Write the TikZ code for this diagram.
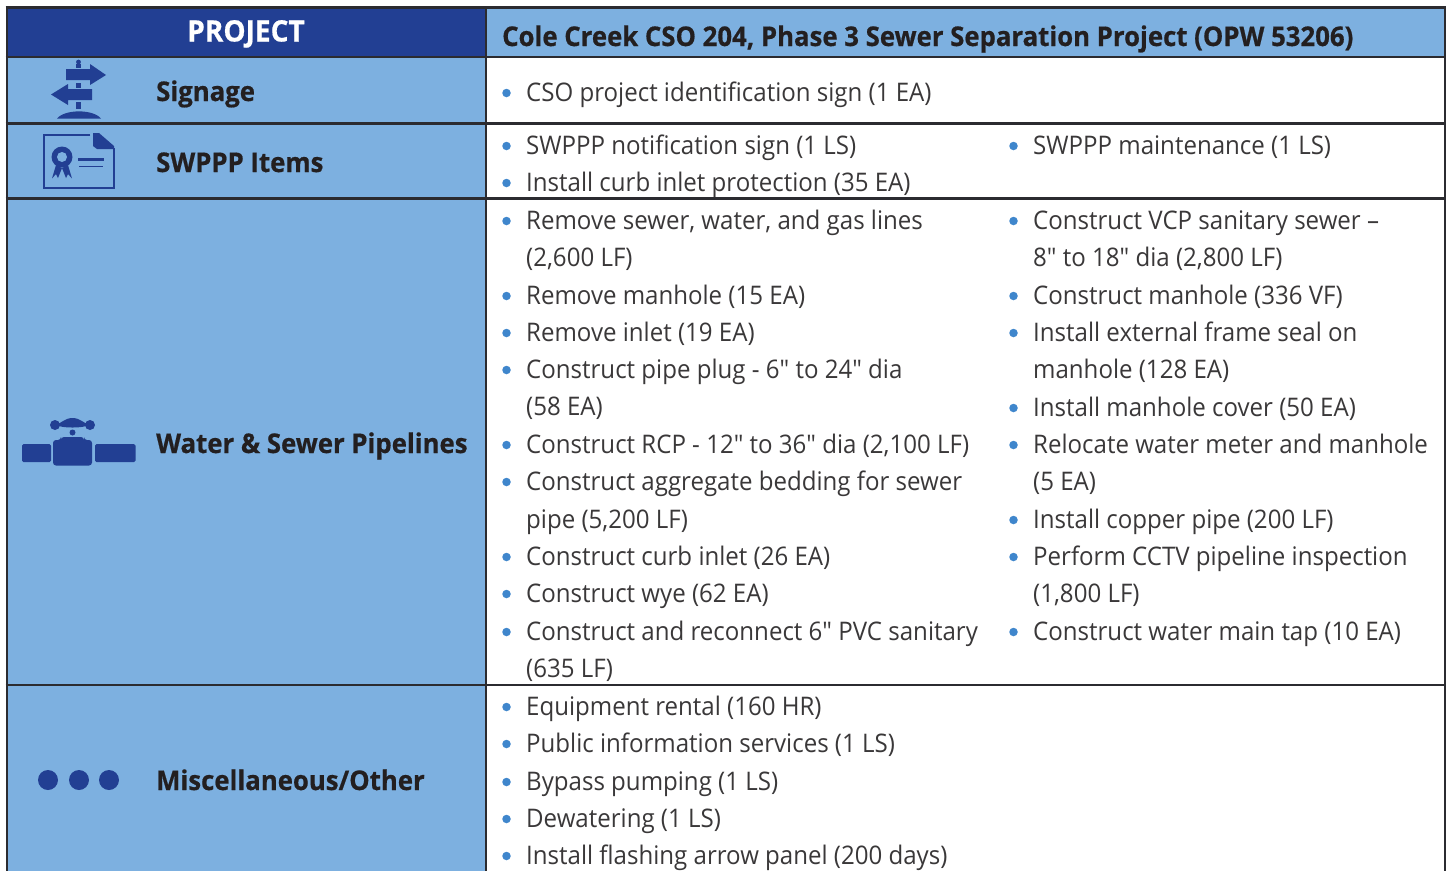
\documentclass[tikz,border=0pt]{standalone}
\usepackage{fontspec}
\setmainfont{Open Sans}
\newfontfamily\boldf[FakeStretch=0.95,FakeBold=0.6]{Open Sans}
\newfontfamily\bodyf[FakeStretch=0.94]{Open Sans}
\definecolor{cellblue}{HTML}{7DB0E0}
\definecolor{navy}{HTML}{223F93}
\definecolor{bulletblue}{HTML}{3F86CC}
\definecolor{rule}{HTML}{2B2B30}
\definecolor{ink}{HTML}{231F20}
\definecolor{bodyink}{HTML}{3A3839}
\newcounter{itm}
\tikzset{
  x=1pt,y=-1pt,
  body/.style={anchor=base west,inner sep=0pt,text=bodyink,font=\bodyf\fontsize{25.6}{30}\selectfont},
  head/.style={anchor=base west,inner sep=0pt,text=ink,font=\boldf\bfseries\fontsize{27.1}{30}\selectfont},
  bulletdot/.style={circle,fill=bulletblue,inner sep=0pt,minimum size=8.5pt},
  gridline/.style={draw=rule,line width=2.6pt},
  icon/.style={fill=navy,draw=none},
}
\newcommand{\bul}[3]{\stepcounter{itm}%
  \node[bulletdot] (b\theitm) at (#1-19.5,#2+1) {};
  \node[body] (t\theitm) at (#1,#2+9.5) {#3};}
\newcommand{\cont}[3]{\stepcounter{itm}%
  \node[body] (t\theitm) at (#1,#2+9.5) {#3};}
\begin{document}
\begin{tikzpicture}
\useasboundingbox (0,0) rectangle (1449,871);
\fill[white] (0,0) rectangle (1449,871);
% cells
\fill[cellblue] (7,8) rectangle (486,871);
\fill[cellblue] (486,8) rectangle (1445,57);
\fill[navy] (7,8) rectangle (486,57);
% rules
\draw[gridline] (5.5,7.5) -- (1446,7.5);
\draw[gridline] (5.5,57) -- (1446,57);
\draw[gridline] (5.5,123.5) -- (1446,123.5);
\draw[gridline] (5.5,198.5) -- (1446,198.5);
\draw[gridline] (5.5,685) -- (1446,685);
\draw[gridline] (7,7) -- (7,871);
\draw[gridline] (486,7) -- (486,871);
\draw[gridline] (1445,7) -- (1445,871);
% headings
\node[head,anchor=base,text=white,font=\boldf\bfseries\fontsize{29.5}{30}\selectfont] (project) at (246,41.5) {PROJECT};
\node[head] (title) at (502,46) {Cole Creek CSO 204, Phase 3 Sewer Separation Project (OPW 53206)};
\node[head] (signage) at (156,101) {Signage};
\node[head] (swppp) at (156,172) {SWPPP Items};
\node[head] (water) at (156,453) {Water \& Sewer Pipelines};
\node[head] (misc) at (156,790) {Miscellaneous/Other};
% signage icon
\fill[icon] (66,69) -- (90,69) -- (90,64) -- (106,75) -- (90,85) -- (90,80) -- (66,80) -- cycle;
\fill[icon] (92,89) -- (68,89) -- (68,84) -- (51,94.5) -- (68,105) -- (68,100) -- (92,100) -- cycle;
\fill[icon] (78.5,62) circle (2.4);
\fill[icon] (76,64) rectangle (81,68);
\fill[icon] (76,82.5) rectangle (81,87.5);
\fill[icon] (76,102) rectangle (81,109);
\fill[icon] (57,118.5) .. controls (65,109) and (93,109) .. (101,118.5) -- cycle;
% certificate icon
\draw[navy,line width=2pt] (90,134.5) -- (44,134.5) -- (44,188) -- (113.5,188) -- (113.5,148);
\fill[icon] (93,133) -- (99,133) -- (114,146) -- (114,149) -- (97,149) -- (93,146) -- cycle;
\fill[icon] (62,157) circle (10.5);
\fill[cellblue] (62,157) circle (5);
\fill[icon] (56,165) -- (62,168) -- (58,178) -- (56,174) -- (52,178.5) -- cycle;
\fill[icon] (68,165) -- (62,168) -- (66,178) -- (68,174) -- (72,178.5) -- cycle;
\fill[icon] (78,157.5) rectangle (104,161);
\fill[icon] (79,165.5) rectangle (103,167);
% valve icon
\fill[icon,rounded corners=1.5pt] (22,444) rectangle (51,462);
\fill[icon,rounded corners=1.5pt] (95,444) rectangle (135.5,462);
\fill[icon,rounded corners=3pt] (53,440) -- (61,440) -- (61,437) -- (84,437) -- (84,440) -- (92,440) -- (92,465.5) -- (53,465.5) -- cycle;
\fill[icon] (72.5,432.5) circle (3);
\fill[icon] (55,425) circle (5);
\fill[icon] (90,425) circle (5);
\fill[icon] (55,425) .. controls (62,423) and (65,418) .. (72.5,418) .. controls (80,418) and (83,423) .. (90,425) .. controls (83,427) and (80,427.5) .. (72.5,427.5) .. controls (65,427.5) and (62,427) .. (55,425) -- cycle;
% dots icon
\fill[icon] (48,780) circle (10);
\fill[icon] (79,780) circle (10);
\fill[icon] (109,780) circle (10);
% list text
\bul{526}{92}{CSO project identification sign (1 EA)}
\bul{526}{145}{SWPPP notification sign (1 LS)}
\bul{1033}{145}{SWPPP maintenance (1 LS)}
\bul{526}{182}{Install curb inlet protection (35 EA)}
\bul{526}{220}{Remove sewer, water, and gas lines}
\cont{526}{257}{(2,600 LF)}
\bul{526}{295}{Remove manhole (15 EA)}
\bul{526}{332}{Remove inlet (19 EA)}
\bul{526}{369}{Construct pipe plug - 6" to 24" dia}
\cont{526}{406}{(58 EA)}
\bul{526}{444}{Construct RCP - 12" to 36" dia (2,100 LF)}
\bul{526}{481}{Construct aggregate bedding for sewer}
\cont{526}{519}{pipe (5,200 LF)}
\bul{526}{556}{Construct curb inlet (26 EA)}
\bul{526}{593}{Construct wye (62 EA)}
\bul{526}{631}{Construct and reconnect 6" PVC sanitary}
\cont{526}{668}{(635 LF)}
\bul{1033}{220}{Construct VCP sanitary sewer –}
\cont{1033}{257}{8" to 18" dia (2,800 LF)}
\bul{1033}{295}{Construct manhole (336 VF)}
\bul{1033}{332}{Install external frame seal on}
\cont{1033}{369}{manhole (128 EA)}
\bul{1033}{407}{Install manhole cover (50 EA)}
\bul{1033}{444}{Relocate water meter and manhole}
\cont{1033}{481}{(5 EA)}
\bul{1033}{519}{Install copper pipe (200 LF)}
\bul{1033}{556}{Perform CCTV pipeline inspection}
\cont{1033}{593}{(1,800 LF)}
\bul{1033}{631}{Construct water main tap (10 EA)}
\bul{526}{706}{Equipment rental (160 HR)}
\bul{526}{743}{Public information services (1 LS)}
\bul{526}{781}{Bypass pumping (1 LS)}
\bul{526}{818}{Dewatering (1 LS)}
\bul{526}{855}{Install flashing arrow panel (200 days)}
\end{tikzpicture}
\end{document}
